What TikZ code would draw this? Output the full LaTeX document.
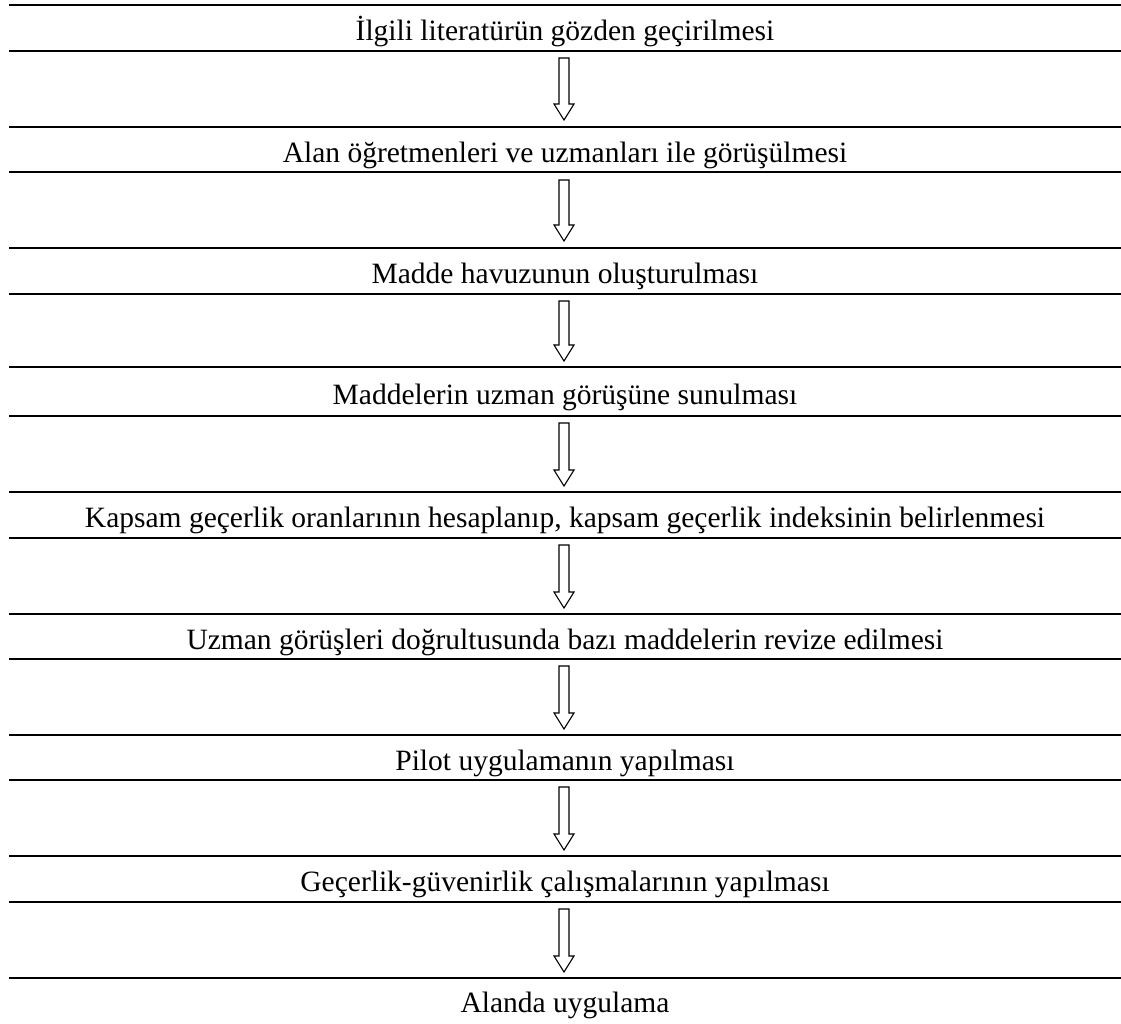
\documentclass[tikz,border=0pt]{standalone}
\usepackage{fontspec}
\setmainfont{Liberation Serif}
\usetikzlibrary{calc}
\tikzset{
  lbl/.style={anchor=base, inner sep=0pt, font=\fontsize{29.5}{34}\selectfont},
  rule/.style={line width=1.9pt, black},
  blockarrow/.style={draw=black, line width=1.1pt, fill=white, line join=miter},
}
\newcommand{\blockarr}[2]{%
  \draw[blockarrow] ($(#1)+(-5,0)$) -- ($(#1)+(5,0)$) -- ($(#2)+(5,-16)$) -- ($(#2)+(10,-16)$)
     -- (#2) -- ($(#2)+(-10,-16)$) -- ($(#2)+(-5,-16)$) -- cycle;}
\begin{document}
\begin{tikzpicture}[x=1pt,y=-1pt]
\useasboundingbox (0,0) rectangle (1121,1023);
% horizontal rules
\foreach \y in {5,51,127,172,248,294,367,416,492,538,614,659,735,780,856,902,978}
  \draw[rule] (9,\y) -- (1121,\y);
% texts
\node[lbl] (n1) at (565,40)  {İlgili literatürün gözden geçirilmesi};
\node[lbl] (n2) at (565,162) {Alan öğretmenleri ve uzmanları ile görüşülmesi};
\node[lbl] (n3) at (565,283) {Madde havuzunun oluşturulması};
\node[lbl] (n4) at (565,404) {Maddelerin uzman görüşüne sunulması};
\node[lbl] (n5) at (565,527) {Kapsam geçerlik oranlarının hesaplanıp, kapsam geçerlik indeksinin belirlenmesi};
\node[lbl] (n6) at (565,649) {Uzman görüşleri doğrultusunda bazı maddelerin revize edilmesi};
\node[lbl] (n7) at (565,770) {Pilot uygulamanın yapılması};
\node[lbl] (n8) at (565,891) {Geçerlik-güvenirlik çalışmalarının yapılması};
\node[lbl] (n9) at (565,1012) {Alanda uygulama};
% arrow end points
\coordinate (s1) at (564,58);  \coordinate (e1) at (564,120);
\coordinate (s2) at (564,180); \coordinate (e2) at (564,241);
\coordinate (s3) at (564,301); \coordinate (e3) at (564,361);
\coordinate (s4) at (564,423); \coordinate (e4) at (564,486);
\coordinate (s5) at (564,545); \coordinate (e5) at (564,608);
\coordinate (s6) at (564,666); \coordinate (e6) at (564,729);
\coordinate (s7) at (564,787); \coordinate (e7) at (564,850);
\coordinate (s8) at (564,909); \coordinate (e8) at (564,972);
\foreach \i in {1,...,8} {\blockarr{s\i}{e\i}}
\end{tikzpicture}
\end{document}
